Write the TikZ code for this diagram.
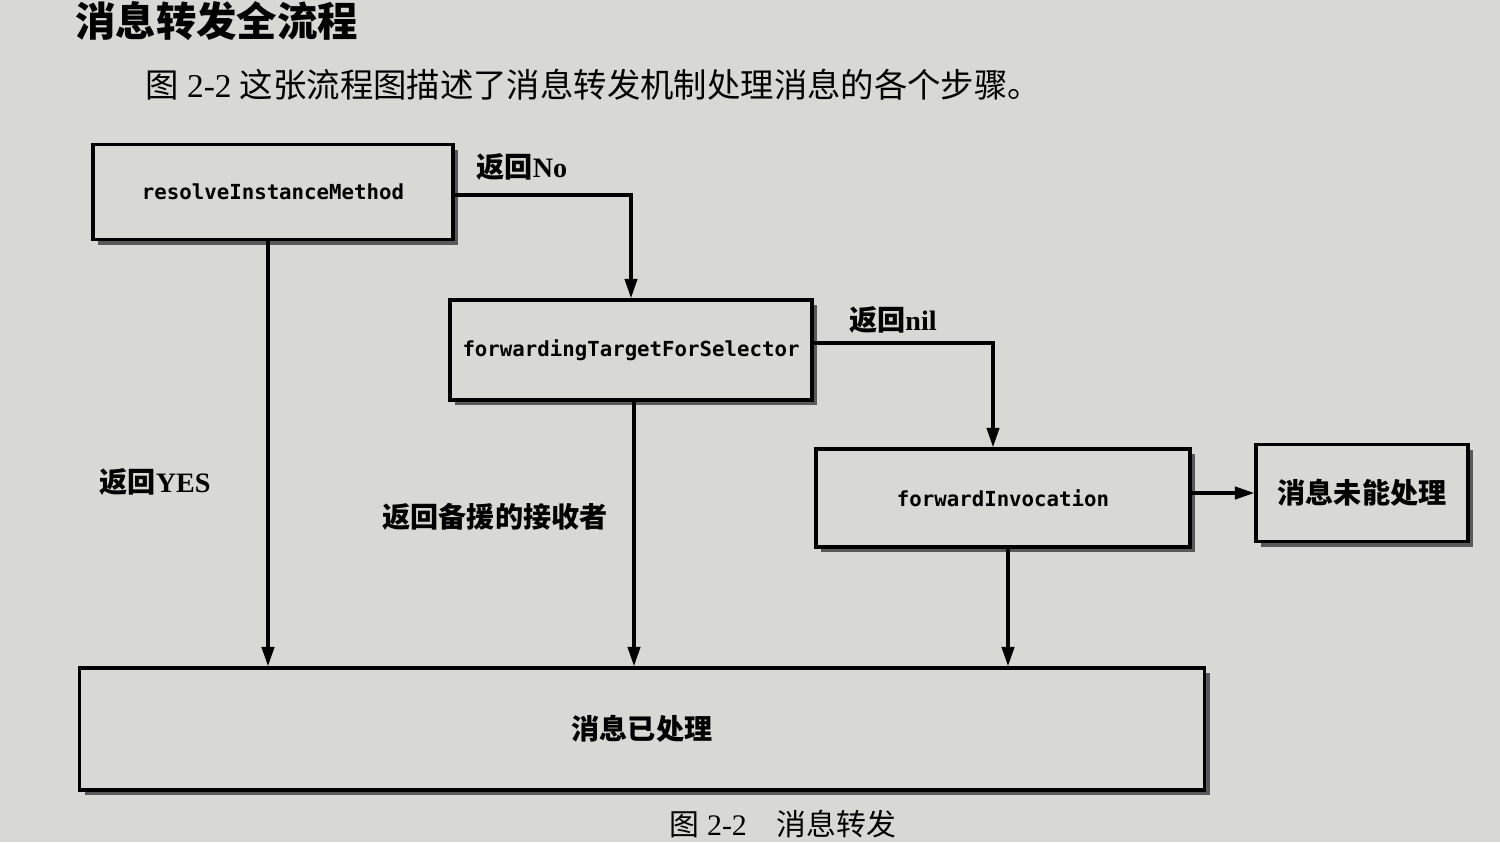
\documentclass[tikz,border=0pt]{standalone}
\usepackage{fontspec}
\setmainfont{Liberation Serif}
\newfontfamily\cjk{Noto Sans CJK SC}
\newfontfamily\code{DejaVu Sans Mono}
\usetikzlibrary{arrows.meta,shadows}
\definecolor{paper}{RGB}{216,216,212}
\begin{document}
\begin{tikzpicture}[x=0.02cm,y=-0.02cm,
  box/.style={draw=black, line width=2pt, fill=paper, inner sep=0pt,
    drop shadow={shadow xshift=3pt, shadow yshift=-3pt, fill=black!65, opacity=1}},
  codetxt/.style={font=\code\bfseries\fontsize{11.8}{13}\selectfont},
  cjktxt/.style={font=\cjk\bfseries\fontsize{16}{18}\selectfont},
  lbl/.style={font=\bfseries\fontsize{16}{18}\selectfont, inner sep=0pt},
  arr/.style={-{Triangle[length=11pt,width=7pt]}, line width=1.8pt}]
\fill[paper] (0,0) rectangle (1500,842);
\useasboundingbox (0,0) rectangle (1500,842);

% headings
\node[anchor=west, inner sep=0pt, font=\cjk\bfseries\fontsize{23}{26}\selectfont] (title) at (75,21) {消息转发全流程};
\node[anchor=west, inner sep=0pt, font=\fontsize{19}{22}\selectfont] (intro) at (145,85) {{\cjk 图} 2-2 {\cjk 这张流程图描述了消息转发机制处理消息的各个步骤。}};

% boxes
\node[box, codetxt, minimum width=7.2cm, minimum height=1.9cm] (rim) at (273,192) {resolveInstanceMethod};
\node[box, codetxt, minimum width=7.24cm, minimum height=2cm] (ftfs) at (631,350) {forwardingTargetForSelector};
\node[box, codetxt, minimum width=7.48cm, minimum height=1.96cm] (fi) at (1003,498) {forwardInvocation};
\node[box, cjktxt, minimum width=4.24cm, minimum height=1.94cm] (unh) at (1362,493) {消息未能处理};
\node[box, cjktxt, minimum width=22.5cm, minimum height=2.44cm] (done) at (642,729) {消息已处理};

% connectors
\draw[arr] ([yshift=-0.06cm]rim.east) -| (ftfs.north);
\draw[arr] ([yshift=0.14cm]ftfs.east) -| ([xshift=-0.2cm]fi.north);
\draw[arr] (fi.east |- unh.west) -- (unh.west);
\draw[arr] ([xshift=-0.1cm]rim.south) -- ([xshift=-0.1cm]rim.south |- done.north);
\draw[arr] ([xshift=0.06cm]ftfs.south) -- ([xshift=0.06cm]ftfs.south |- done.north);
\draw[arr] ([xshift=0.1cm]fi.south) -- ([xshift=0.1cm]fi.south |- done.north);

% labels
\node[lbl] (lno) at (522,167) {{\cjk 返回}No};
\node[lbl] (lnil) at (893,320) {{\cjk 返回}nil};
\node[lbl] (lyes) at (155,482) {{\cjk 返回}YES};
\node[lbl, font=\cjk\bfseries\fontsize{16}{18}\selectfont] (lbk) at (495,517) {返回备援的接收者};

% caption
\node[inner sep=0pt, font=\fontsize{17}{19}\selectfont] (cap) at (783,824) {{\cjk 图} 2-2\quad{\cjk 消息转发}};
\end{tikzpicture}
\end{document}
